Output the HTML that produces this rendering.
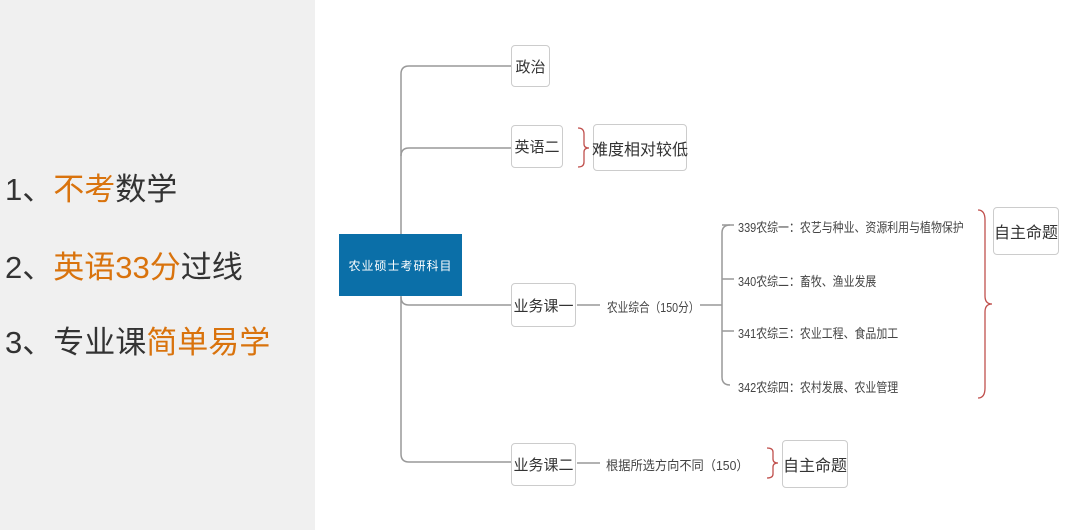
<!DOCTYPE html>
<html><head><meta charset="utf-8"><style>
body{margin:0;width:1080px;height:530px;background:#fff;position:relative;overflow:hidden;font-family:"Liberation Sans","Noto Sans CJK SC",sans-serif;}
.left{position:absolute;left:0;top:0;width:315px;height:530px;background:#f0f0f0;}
.li{position:absolute;left:5px;font-size:31px;color:#333;white-space:nowrap;}
.o{color:#d9730d;}
.box{position:absolute;border:1px solid #ccc;border-radius:4px;background:#fff;box-sizing:border-box;display:flex;align-items:center;justify-content:center;color:#333;white-space:nowrap;}
.t{position:absolute;font-size:13px;color:#444;white-space:nowrap;transform-origin:left center;}
</style></head><body>
<div class="left"></div>
<div class="li" style="top:164px">1、<span class="o">不考</span>数学</div>
<div class="li" style="top:242px">2、<span class="o">英语33分</span>过线</div>
<div class="li" style="top:317px">3、专业课<span class="o">简单易学</span></div>
<svg width="1080" height="530" style="position:absolute;left:0;top:0" fill="none">
<g stroke="#999" stroke-width="1.5">
<path d="M511 66 H409 Q401 66 401 74 V454 Q401 462 409 462 H511"/>
<path d="M511 148 H409 Q401 148 401 156"/>
<path d="M511 305 H409 Q401 305 401 297"/>
<path d="M577 305 H600"/>
<path d="M700 305 H722"/>
<path d="M730 225 Q722 225 722 233 V377 Q722 385 730 385"/>
<path d="M722 279 H734 M722 331 H734"/>
<path d="M722 225 H734"/>
<path d="M577 463 H600"/>
</g>
<g stroke="#c0504d" stroke-width="1.3">
<path d="M578 128 Q584 128 584 134 V144 Q584 148 589 148 Q584 148 584 152 V162 Q584 167 578 167"/>
<path d="M978 210 Q985 210 985 220 V296 Q985 304 992 304 Q985 304 985 312 V388 Q985 398 978 398"/>
<path d="M767 448 Q773 448 773 452 V459 Q773 463 778 463 Q773 463 773 467 V474 Q773 478 767 478"/>
</g>
</svg>
<div class="box" style="left:511px;top:45px;width:39px;height:42px;font-size:15px">政治</div>
<div class="box" style="left:511px;top:125px;width:52px;height:43px;font-size:15px">英语二</div>
<div class="box" style="left:593px;top:124px;width:94px;height:47px;font-size:16px">难度相对较低</div>
<div class="box" style="left:339px;top:234px;width:123px;height:62px;font-size:12px;background:#0b6fa8;border:none;border-radius:0;color:#fff;letter-spacing:1px">农业硕士考研科目</div>
<div class="box" style="left:511px;top:283px;width:65px;height:44px;font-size:15px">业务课一</div>
<div class="t" style="left:607px;top:297px;transform:scaleX(0.82)">农业综合（150分）</div>
<div class="t" style="left:738px;top:217px;transform:scaleX(0.84)">339农综一：农艺与种业、资源利用与植物保护</div>
<div class="t" style="left:738px;top:271px;transform:scaleX(0.84)">340农综二：畜牧、渔业发展</div>
<div class="t" style="left:738px;top:323px;transform:scaleX(0.84)">341农综三：农业工程、食品加工</div>
<div class="t" style="left:738px;top:377px;transform:scaleX(0.84)">342农综四：农村发展、农业管理</div>
<div class="box" style="left:993px;top:207px;width:66px;height:48px;font-size:16px">自主命题</div>
<div class="box" style="left:511px;top:443px;width:65px;height:43px;font-size:15px">业务课二</div>
<div class="t" style="left:606px;top:455px;transform:scaleX(0.94)">根据所选方向不同（150）</div>
<div class="box" style="left:782px;top:440px;width:66px;height:48px;font-size:16px">自主命题</div>
</body></html>
